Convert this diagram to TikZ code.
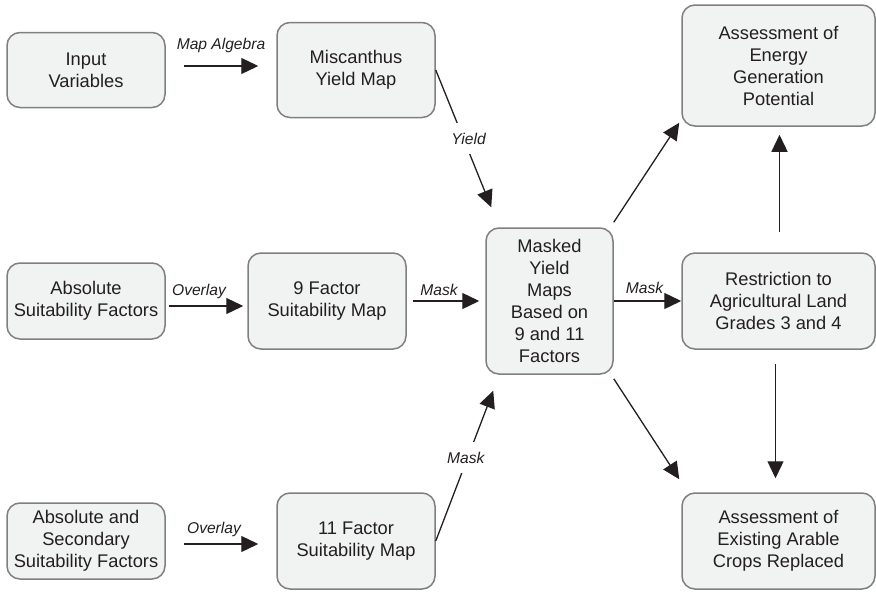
\documentclass[tikz,border=0pt]{standalone}
\usepackage{fontspec}
\setmainfont{Liberation Sans}
\usetikzlibrary{arrows.meta,calc}
\definecolor{boxfill}{HTML}{F1F2F2}
\definecolor{boxline}{HTML}{7F7F7F}
\definecolor{ink}{HTML}{231F20}
\begin{document}
\begin{tikzpicture}[x=1pt,y=-1pt,
  box/.style={draw=boxline, line width=1.5pt, fill=boxfill, rounded corners=13pt,
    align=center, inner sep=0pt, text=ink, font=\fontsize{18.3}{22}\selectfont},
  flow/.style={draw=ink, line width=1.3pt, -{Triangle[length=17pt,width=16pt]}},
  lab/.style={font=\fontsize{15.6}{18}\selectfont\itshape, text=ink, inner sep=1pt},
  cutlab/.style={lab, fill=white, inner xsep=2pt, inner ysep=10pt}]
\useasboundingbox (0,0) rectangle (876,592);

% boxes
\node[box, minimum width=158pt, minimum height=75pt] (in) at (86,70) {Input\\Variables};
\node[box, minimum width=158pt, minimum height=95pt] (mis) at (356,70) {Miscanthus\\Yield Map};
\node[box, minimum width=193pt, minimum height=121pt] (en) at (778.5,65.5) {Assessment of\\Energy\\Generation\\Potential};
\node[box, minimum width=158pt, minimum height=76pt] (abs) at (86,301) {Absolute\\Suitability Factors};
\node[box, minimum width=158pt, minimum height=96pt] (nine) at (327,301) {9 Factor\\Suitability Map};
\node[box, minimum width=127pt, minimum height=146pt] (mk) at (549.5,301) {Masked\\Yield\\Maps\\Based on\\9 and 11\\Factors};
\node[box, minimum width=193pt, minimum height=96pt] (res) at (778.5,301) {Restriction to\\Agricultural Land\\Grades 3 and 4};
\node[box, minimum width=158pt, minimum height=76pt] (sec) at (86,541) {Absolute and\\Secondary\\Suitability Factors};
\node[box, minimum width=158pt, minimum height=96pt] (eleven) at (356,541) {11 Factor\\Suitability Map};
\node[box, minimum width=193pt, minimum height=96pt] (ar) at (778.5,541) {Assessment of\\Existing Arable\\Crops Replaced};

% connectors
\draw[flow] ([shift={(18,-4)}]in.east) -- ([shift={(-18,-4)}]mis.west)
  node[lab, midway, above=11.5pt] {Map Algebra};
\draw[flow] ([shift={(3,5)}]abs.east) -- ([shift={(-4,5)}]nine.west)
  node[lab, midway, above=5.5pt, xshift=-7pt] {Overlay};
\draw[flow] ([shift={(18,3)}]sec.east) -- ([shift={(-18,3)}]eleven.west)
  node[lab, midway, above=5.5pt, xshift=-7pt] {Overlay};
\draw[flow] ([xshift=6pt]nine.east) -- ([xshift=-6pt]mk.west)
  node[lab, midway, above=3.5pt, xshift=-7pt] {Mask};
\draw[flow] (mk.east) -- (res.west)
  node[lab, midway, above=5.5pt, xshift=-3pt] {Mask};
\draw[flow] (mis.east) -- ($(mk.north west)+(6,-20)$)
  node[cutlab, pos=0.5, xshift=5pt] {Yield};
\draw[flow] (eleven.east) -- ($(mk.south west)+(8,16)$)
  node[cutlab, pos=0.556, xshift=-2pt] {Mask};
\draw[flow] ($(mk.north east)+(0,-5)$) -- ($(en.south west)+(-2,-4)$);
\draw[flow] ($(mk.south east)+(0,4)$) -- ($(ar.north west)+(-2,-13)$);
\draw[flow] ($(res.north)+(1,-20)$) -- ($(en.south)+(1,8)$);
\draw[flow] ($(res.south)+(-3,14)$) -- ($(ar.north)+(-3,-14)$);
\end{tikzpicture}
\end{document}
